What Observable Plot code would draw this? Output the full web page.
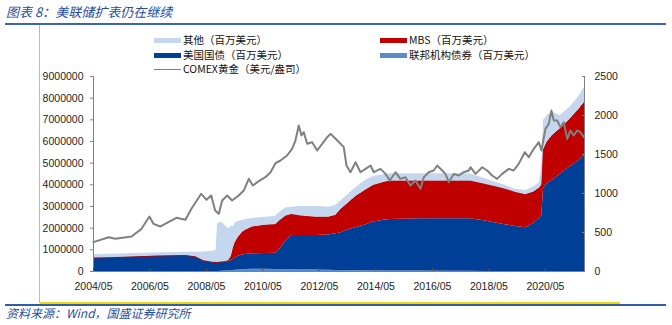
<!DOCTYPE html>
<html><head><meta charset="utf-8">
<script src="https://cdn.jsdelivr.net/npm/d3@7"></script>
<script src="https://cdn.jsdelivr.net/npm/@observablehq/plot@0.6"></script>
<style>
body{margin:0;background:#fff;}
#wrap{position:relative;width:672px;height:325px;overflow:hidden;background:#fff;font-family:"Noto Sans CJK SC","Noto Sans",sans-serif;}
#chart{position:absolute;left:0;top:0;}
.abs{position:absolute;}
.lg{position:absolute;font-size:10.5px;color:#111;white-space:nowrap;line-height:12px;}
.sw{position:absolute;width:27px;height:5px;}
</style></head>
<body>
<div id="wrap">
  <div class="abs" style="left:6px;top:2px;font-size:13px;font-style:italic;color:#1f4e9e;white-space:nowrap;">图表 8：美联储扩表仍在继续</div>
  <div class="abs" style="left:5px;top:23px;width:661px;height:2px;background:#3a66ad;"></div>
  <div class="abs" style="left:39px;top:25px;width:1px;height:278px;background:#cbbf88;"></div>
  <div id="chart"></div>
  <div id="legend"></div>
  <div class="abs" style="left:40px;top:302px;width:580px;height:2px;background:#f2d600;"></div>
  <div class="abs" style="left:5px;top:304px;width:661px;height:2px;background:#2f5ea8;"></div>
  <div class="abs" style="left:6px;top:304px;font-size:12px;font-style:italic;color:#1f4e9e;white-space:nowrap;">资料来源：Wind，国盛证券研究所</div>
</div>
<script>
// ---- data (values in 百万美元) ----
const dates = ["2004-05-01","2004-12-08","2005-08-22","2006-07-11","2007-08-03","2007-12-10","2008-03-22","2008-07-29","2008-09-02","2008-09-21",
"2008-11-12","2008-12-20","2009-02-11","2009-03-19","2009-04-15","2009-05-10","2009-06-18","2009-08-09","2009-09-18","2009-12-17",
"2010-06-02","2010-10-10","2010-12-01","2011-02-17","2011-05-04","2011-08-29","2012-03-10","2012-08-25","2012-11-25","2013-01-29",
"2013-04-02","2013-08-10","2013-12-17","2014-03-29","2014-09-02","2014-11-06","2015-11-28","2016-12-20","2017-09-05","2018-03-16",
"2018-11-06","2019-04-09","2019-08-16","2019-11-28","2020-02-14","2020-03-16","2020-04-05","2020-05-22","2020-07-30","2020-11-12",
"2021-03-19","2021-07-01","2021-09-18"];
const agency = [0,0,0,0,0,0,0,0,0,5000,
12000,20000,30000,40000,50000,60000,75000,85000,95000,100000,
100000,95000,90000,85000,80000,70000,65000,60000,50000,45000,
45000,40000,35000,30000,25000,25000,20000,15000,8000,4000,
0,0,0,0,0,0,0,0,0,0,
0,0,0];
const treasury = [620000,640000,670000,710000,740000,680000,500000,420000,420000,415000,
418000,410000,420000,460000,530000,580000,625000,675000,695000,720000,
730000,745000,910000,1315000,1580000,1590000,1595000,1620000,1690000,1735000,
1835000,1980000,2115000,2250000,2355000,2375000,2410000,2415000,2422000,2326000,
2170000,2080000,2020000,2200000,2450000,2600000,3820000,4050000,4200000,4500000,
4850000,5100000,5350000];
const mbs = [0,0,0,0,0,0,0,0,0,0,
10000,20000,50000,200000,520000,710000,880000,1050000,1110000,1230000,
1300000,1320000,1330000,1150000,970000,900000,840000,820000,840000,1070000,
1170000,1430000,1600000,1690000,1750000,1770000,1740000,1740000,1740000,1690000,
1650000,1570000,1520000,1460000,1400000,1400000,1780000,1920000,2080000,2100000,
2200000,2350000,2460000];
const other = [160000,160000,160000,140000,150000,210000,400000,510000,560000,1780000,
1840000,1700000,1470000,1400000,950000,900000,720000,540000,500000,400000,
370000,380000,390000,380000,340000,440000,500000,470000,470000,400000,
400000,400000,450000,410000,350000,340000,340000,340000,330000,260000,
180000,150000,200000,230000,250000,1000000,1370000,1230000,1070000,600000,
550000,600000,690000];

const goldDates = ["2004-05-01","2004-11-12","2005-02-07","2005-09-05","2006-01-12","2006-04-24","2006-06-15","2006-09-14","2006-12-26","2007-04-08",
"2007-08-03","2007-10-19","2008-02-23","2008-05-01","2008-07-01","2008-08-21","2008-10-07","2008-11-20","2009-01-24","2009-03-28",
"2009-06-22","2009-08-26","2009-10-30","2009-12-21","2010-03-08","2010-06-02","2010-08-07","2010-10-10","2010-12-14","2011-03-09",
"2011-05-13","2011-06-25","2011-08-07","2011-09-11","2011-10-11","2011-11-24","2012-01-28","2012-04-01","2012-06-05","2012-08-09",
"2012-09-21","2012-11-25","2013-01-29","2013-03-11","2013-04-15","2013-06-06","2013-08-10","2013-10-14","2013-12-17","2014-02-21",
"2014-04-03","2014-06-28","2014-09-02","2014-10-27","2015-01-09","2015-03-13","2015-05-17","2015-07-21","2015-09-24","2015-11-28",
"2016-01-10","2016-03-14","2016-05-17","2016-07-01","2016-09-04","2016-10-16","2016-11-28","2017-02-02","2017-04-06","2017-06-10",
"2017-08-13","2017-09-05","2017-11-09","2018-02-04","2018-04-08","2018-06-11","2018-08-15","2018-10-19","2019-01-13","2019-03-17",
"2019-05-21","2019-08-07","2019-09-28","2019-12-02","2020-02-06","2020-03-10","2020-05-01","2020-06-13","2020-07-17","2020-08-17",
"2020-09-30","2020-11-12","2020-12-24","2021-02-07","2021-03-19","2021-05-01","2021-06-15","2021-07-27","2021-09-09"];
const goldPrice = [376,440,419,449,547,705,611,577,632,688,
663,804,996,919,974,782,740,910,974,910,
974,1038,1188,1102,1158,1209,1273,1389,1423,1487,
1573,1679,1872,1743,1786,1637,1658,1551,1637,1722,
1765,1701,1637,1594,1359,1273,1401,1273,1316,1359,
1273,1316,1252,1166,1273,1188,1209,1102,1166,1060,
1209,1273,1295,1359,1295,1252,1145,1252,1231,1273,
1295,1337,1252,1337,1295,1231,1188,1252,1316,1295,
1380,1529,1465,1573,1658,1551,1829,1893,2064,1936,
1936,1850,1914,1700,1808,1743,1808,1786,1722];

const seriesNames = ["联邦机构债券（百万美元）","美国国债（百万美元）","MBS（百万美元）","其他（百万美元）"];
const seriesColors = ["#5b8bc9","#003f98","#c00000","#c5d7ee"];
const goldName = "COMEX黄金（美元/盎司）";
const xTicks = ["2004-05-01","2006-05-01","2008-05-01","2010-05-01","2012-05-01","2014-05-01","2016-05-01","2018-05-01","2020-05-01"];
const leftTicks = [0,1000000,2000000,3000000,4000000,5000000,6000000,7000000,8000000,9000000];
const rightTicks = [0,500,1000,1500,2000,2500];
const xStart = "2004-05-01", xEnd = "2021-09-18";

// ---- build tables ----
const leftMax = 9000000, rightMax = 2500, k = leftMax / rightMax;
const seriesValues = [agency, treasury, mbs, other];
const table = [];
seriesNames.forEach((name, s) => dates.forEach((d, i) => table.push({date: new Date(d), series: name, value: seriesValues[s][i]})));
const mbsTop = dates.map((d, i) => ({date: new Date(d), value: agency[i] + treasury[i] + mbs[i]}));
const gold = goldDates.map((d, i) => ({date: new Date(d), value: goldPrice[i]}));
const axisGray = "#808080";

const chart = Plot.plot({
  width: 672, height: 325,
  marginTop: 76, marginBottom: 54, marginLeft: 93, marginRight: 88,
  x: {type: "utc", domain: [new Date(xStart), new Date(xEnd)]},
  y: {domain: [0, leftMax]},
  color: {domain: seriesNames, range: seriesColors},
  style: {fontFamily: "'Liberation Sans', Arial, sans-serif", fontSize: "10.5px", color: "#222", background: "transparent"},
  marks: [
    Plot.areaY(table, Plot.stackY({order: seriesNames}, {x: "date", y: "value", z: "series", fill: "series"})),
    Plot.lineY(mbsTop, {x: "date", y: "value", stroke: "#c00000", strokeWidth: 0.8}),
    Plot.lineY(gold, {x: "date", y: d => d.value * k, stroke: "#808080", strokeWidth: 2}),
    Plot.ruleX([new Date(xStart), new Date(xEnd)], {stroke: axisGray}),
    Plot.ruleY([0], {stroke: axisGray}),
    Plot.axisY(leftTicks, {anchor: "left", tickSize: 3, tickPadding: 7, tickFormat: d => String(d), stroke: axisGray, label: null}),
    Plot.axisY(rightTicks.map(v => v * k), {anchor: "right", tickSize: 3, dx: -3, fill: "none", stroke: axisGray, label: null}),
    Plot.axisY(rightTicks.map(v => v * k), {anchor: "right", tickSize: 0, tickPadding: 10, tickFormat: d => String(Math.round(d / k)), label: null}),
    Plot.axisX(xTicks.map(d => new Date(d)), {anchor: "bottom", tickSize: 3, dy: -3, fill: "none", stroke: "#555", label: null}),
    Plot.axisX(xTicks.map(d => new Date(d)), {anchor: "bottom", tickSize: 0, tickPadding: 11, tickFormat: d3.utcFormat("%Y/%m"), label: null})
  ]
});
document.getElementById("chart").appendChild(chart);

// ---- legend ----
const legendItems = [
  {name: seriesNames[3], color: seriesColors[3], x: 154, y: 40, type: "area"},
  {name: seriesNames[2], color: seriesColors[2], x: 380, y: 40, type: "area"},
  {name: seriesNames[1], color: seriesColors[1], x: 154, y: 55, type: "area"},
  {name: seriesNames[0], color: seriesColors[0], x: 380, y: 55, type: "area"},
  {name: goldName, color: "#808080", x: 154, y: 69.5, type: "line"}
];
const lg = document.getElementById("legend");
legendItems.forEach(it => {
  const sw = document.createElement("div");
  sw.className = "sw";
  sw.style.left = it.x + "px";
  sw.style.background = it.color;
  if (it.type === "line") { sw.style.height = "1.5px"; sw.style.top = (it.y - 0.75) + "px"; }
  else { sw.style.top = (it.y - 2.5) + "px"; }
  lg.appendChild(sw);
  const t = document.createElement("div");
  t.className = "lg";
  t.style.left = (it.x + 29) + "px";
  t.style.top = (it.y - 6.5) + "px";
  t.textContent = it.name;
  lg.appendChild(t);
});
</script>
</body></html>
